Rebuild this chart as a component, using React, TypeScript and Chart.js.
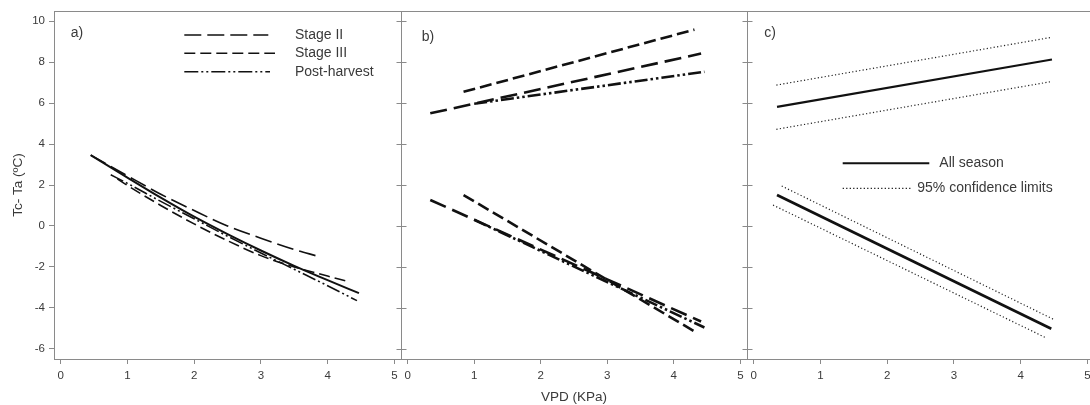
import React, { useEffect, useRef } from "react";
import { Chart, registerables } from "chart.js";
Chart.register(...registerables);

const FONT = "'Liberation Sans', Arial, Helvetica, sans-serif";
const AXIS = "#8a8a8a";
const TXT = "#3a3a3a";
const INK = "#111111";

const xTickValues = [0, 1, 2, 3, 4, 5];
const yTickValues = [-6, -4, -2, 0, 2, 4, 6, 8, 10];
const X_MIN = -0.1;
const X_MAX = 5.1;
const Y_MIN = -6.5;
const Y_MAX = 10.5;

// Panel a
const aAllVpd = [0.45, 1, 1.5, 2, 2.5, 3, 3.5, 4, 4.47];
const aAllDt = [3.46, 2.36, 1.38, 0.45, -0.4, -1.2, -1.95, -2.65, -3.28];
const aStage2Vpd = [0.45, 1, 1.5, 2, 2.5, 3, 3.5, 3.84];
const aStage2Dt = [3.46, 2.45, 1.55, 0.75, 0.0, -0.6, -1.15, -1.47];
const aStage3Vpd = [0.85, 1, 1.5, 2, 2.5, 3, 3.5, 4, 4.27];
const aStage3Dt = [2.3, 1.98, 1.0, 0.1, -0.72, -1.45, -2.0, -2.45, -2.68];
const aPostVpd = [0.75, 1, 1.5, 2, 2.5, 3, 3.5, 4, 4.44];
const aPostDt = [2.5, 2.08, 1.2, 0.35, -0.5, -1.32, -2.12, -2.92, -3.65];

// Panel b
const bStage2UpVpd = [0.34, 4.41];
const bStage2UpDt = [5.5, 8.42];
const bStage3UpVpd = [0.84, 4.31];
const bStage3UpDt = [6.55, 9.59];
const bPostUpVpd = [1.0, 4.46];
const bPostUpDt = [5.97, 7.53];
const bStage2LowVpd = [0.34, 4.41];
const bStage2LowDt = [1.27, -4.67];
const bStage3LowVpd = [0.84, 4.31];
const bStage3LowDt = [1.51, -5.15];
const bPostLowVpd = [1.0, 4.46];
const bPostLowDt = [0.3, -4.96];

// Panel c
const cFitUpVpd = [0.35, 4.47];
const cFitUpDt = [5.82, 8.13];
const cHiUpVpd = [0.34, 4.44];
const cHiUpDt = [6.88, 9.2];
const cLoUpVpd = [0.34, 4.44];
const cLoUpDt = [4.72, 7.04];
const cFitLowVpd = [0.35, 4.46];
const cFitLowDt = [1.51, -5.02];
const cHiLowVpd = [0.42, 4.51];
const cHiLowDt = [1.95, -4.59];
const cLoLowVpd = [0.29, 4.39];
const cLoLowDt = [1.02, -5.48];

const legendA = ["Stage II", "Stage III", "Post-harvest"];
const legendC = ["All season", "95% confidence limits"];

const DASH_S2 = [17, 6];
const DASH_S3 = [11, 5];
const DASH_PH = [14, 3, 2, 3, 2, 3];
const DASH_S2B = [17, 7];
const DASH_S3B = [12, 5];
const DASH_PHB = [13, 3, 2.5, 3, 2.5, 3];
const DASH_DOT = [1.2, 2.3];

const pts = (xs: number[], ys: number[]) => xs.map((x, i) => ({ x, y: ys[i] }));

const ds = (label: string, xs: number[], ys: number[], width: number, dash: number[], curve = false, color = INK) => ({
  label,
  data: pts(xs, ys),
  borderColor: color,
  backgroundColor: color,
  borderWidth: width,
  borderDash: dash,
  pointRadius: 0,
  fill: false,
  cubicInterpolationMode: curve ? "monotone" : "default",
  tension: curve ? 0.4 : 0,
  borderCapStyle: "butt",
});

type LegendItem = { text: string; x0: number; x1: number; tx: number; y: number; dash: number[]; width: number };
type FrameOpts = {
  divider: boolean;
  label: string;
  labelX: number;
  labelY: number;
  legend: LegendItem[];
};

const framePlugin = {
  id: "frame",
  afterDraw(chart: any, _args: any, opts: FrameOpts) {
    const { ctx, chartArea } = chart;
    const { left, right, top, bottom } = chartArea;
    ctx.save();
    ctx.strokeStyle = AXIS;
    ctx.lineWidth = 1;
    ctx.setLineDash([]);
    const ty = Math.round(top) + 0.5;
    ctx.beginPath();
    ctx.moveTo(left, ty);
    ctx.lineTo(right + 3, ty);
    ctx.stroke();
    if (opts.divider) {
      const dx = Math.round(left) + 0.5;
      ctx.beginPath();
      ctx.moveTo(dx, top);
      ctx.lineTo(dx, bottom);
      const ys = chart.scales.y;
      yTickValues.forEach((v) => {
        const py = Math.round(ys.getPixelForValue(v)) + 0.5;
        ctx.moveTo(dx - 5, py);
        ctx.lineTo(dx + 5, py);
      });
      ctx.stroke();
    }
    ctx.fillStyle = TXT;
    ctx.textBaseline = "middle";
    ctx.textAlign = "left";
    ctx.font = `14px ${FONT}`;
    ctx.fillText(opts.label, left + opts.labelX, top + opts.labelY);
    opts.legend.forEach((it) => {
      ctx.strokeStyle = INK;
      ctx.lineWidth = it.width;
      ctx.setLineDash(it.dash);
      ctx.beginPath();
      ctx.moveTo(left + it.x0, top + it.y);
      ctx.lineTo(left + it.x1, top + it.y);
      ctx.stroke();
      ctx.setLineDash([]);
      ctx.fillStyle = TXT;
      ctx.fillText(it.text, left + it.tx, top + it.y);
    });
    ctx.restore();
  },
};

function makeConfig(datasets: any[], withY: boolean, xTitle: string, frame: FrameOpts) {
  return {
    type: "line",
    data: { datasets },
    plugins: [framePlugin],
    options: {
      responsive: false,
      animation: false,
      devicePixelRatio: 1,
      layout: { padding: { top: 11, right: 3, bottom: 0, left: withY ? 0 : 6 } },
      plugins: {
        legend: { display: false },
        tooltip: { enabled: false },
        frame,
      },
      scales: {
        x: {
          type: "linear",
          min: X_MIN,
          max: X_MAX,
          afterBuildTicks: (s: any) => {
            s.ticks = xTickValues.map((v) => ({ value: v }));
          },
          afterFit: (s: any) => {
            s.height = 46;
          },
          grid: { drawOnChartArea: false, drawTicks: true, tickLength: 5, color: AXIS },
          border: { display: true, color: AXIS, width: 1 },
          ticks: {
            font: { family: FONT, size: 11.5 },
            color: TXT,
            padding: 5,
            maxRotation: 0,
            autoSkip: false,
            callback: (v: any) => String(v),
          },
          title: {
            display: xTitle !== "",
            text: xTitle,
            font: { family: FONT, size: 13.5 },
            color: TXT,
            padding: { top: 0, bottom: 0 },
          },
        },
        y: {
          type: "linear",
          display: withY,
          min: Y_MIN,
          max: Y_MAX,
          afterBuildTicks: (s: any) => {
            s.ticks = yTickValues.map((v) => ({ value: v }));
          },
          afterFit: (s: any) => {
            s.width = withY ? 54 : 0;
          },
          grid: { drawOnChartArea: false, drawTicks: true, tickLength: 5, color: AXIS },
          border: { display: true, color: AXIS, width: 1 },
          ticks: {
            font: { family: FONT, size: 11.5 },
            color: TXT,
            padding: 4,
            autoSkip: false,
            callback: (v: any) => String(v),
          },
          title: {
            display: true,
            text: "Tc- Ta (ºC)",
            font: { family: FONT, size: 13.5 },
            color: TXT,
            padding: { top: 10, bottom: 0 },
          },
        },
      },
    },
  };
}

export default function App() {
  const refA = useRef<HTMLCanvasElement>(null);
  const refB = useRef<HTMLCanvasElement>(null);
  const refC = useRef<HTMLCanvasElement>(null);

  useEffect(() => {
    const charts: Chart[] = [];
    const cfgA = makeConfig(
      [
        ds("All season", aAllVpd, aAllDt, 2, [], true),
        ds(legendA[0], aStage2Vpd, aStage2Dt, 1.6, DASH_S2, true),
        ds(legendA[1], aStage3Vpd, aStage3Dt, 1.6, DASH_S3, true),
        ds(legendA[2], aPostVpd, aPostDt, 1.6, DASH_PH, true),
      ],
      true,
      "",
      {
        divider: false,
        label: "a)",
        labelX: 16.7,
        labelY: 22,
        legend: [
          { text: legendA[0], x0: 130.3, x1: 214.3, tx: 241, y: 24, dash: DASH_S2, width: 1.6 },
          { text: legendA[1], x0: 130.3, x1: 221, tx: 241, y: 42.3, dash: DASH_S3, width: 1.6 },
          { text: legendA[2], x0: 130.3, x1: 216, tx: 241, y: 60.7, dash: DASH_PH, width: 1.6 },
        ],
      }
    );
    const cfgB = makeConfig(
      [
        ds("Stage II upper", bStage2UpVpd, bStage2UpDt, 2.6, DASH_S2B),
        ds("Stage III upper", bStage3UpVpd, bStage3UpDt, 2.6, DASH_S3B),
        ds("Post-harvest upper", bPostUpVpd, bPostUpDt, 2.6, DASH_PHB),
        ds("Stage II lower", bStage2LowVpd, bStage2LowDt, 2.6, DASH_S2B),
        ds("Stage III lower", bStage3LowVpd, bStage3LowDt, 2.6, DASH_S3B),
        ds("Post-harvest lower", bPostLowVpd, bPostLowDt, 2.6, DASH_PHB),
      ],
      false,
      "VPD (KPa)",
      { divider: true, label: "b)", labelX: 20.7, labelY: 25.7, legend: [] }
    );
    const cfgC = makeConfig(
      [
        ds("All season upper", cFitUpVpd, cFitUpDt, 2.2, []),
        ds("95% upper hi", cHiUpVpd, cHiUpDt, 1.2, DASH_DOT, false, "#222"),
        ds("95% upper lo", cLoUpVpd, cLoUpDt, 1.2, DASH_DOT, false, "#222"),
        ds("All season lower", cFitLowVpd, cFitLowDt, 2.8, []),
        ds("95% lower hi", cHiLowVpd, cHiLowDt, 1.2, DASH_DOT, false, "#222"),
        ds("95% lower lo", cLoLowVpd, cLoLowDt, 1.2, DASH_DOT, false, "#222"),
      ],
      false,
      "",
      {
        divider: true,
        label: "c)",
        labelX: 17.3,
        labelY: 22,
        legend: [
          { text: legendC[0], x0: 95.7, x1: 182.3, tx: 192.3, y: 152.3, dash: [], width: 2 },
          { text: legendC[1], x0: 95.7, x1: 163.7, tx: 170.3, y: 177.3, dash: DASH_DOT, width: 1.2 },
        ],
      }
    );
    if (refA.current) charts.push(new Chart(refA.current, cfgA as any));
    if (refB.current) charts.push(new Chart(refB.current, cfgB as any));
    if (refC.current) charts.push(new Chart(refC.current, cfgC as any));
    return () => charts.forEach((c) => c.destroy());
  }, []);

  return (
    <div
      style={{
        position: "fixed",
        left: 0,
        top: 0,
        width: 1090,
        height: 405,
        overflow: "hidden",
        background: "#ffffff",
      }}
    >
      <canvas ref={refA} width={404} height={405} style={{ position: "absolute", left: 0, top: 0, width: 404, height: 405 }} />
      <canvas ref={refB} width={355} height={405} style={{ position: "absolute", left: 395, top: 0, width: 355, height: 405 }} />
      <canvas ref={refC} width={356} height={405} style={{ position: "absolute", left: 741, top: 0, width: 356, height: 405 }} />
    </div>
  );
}
